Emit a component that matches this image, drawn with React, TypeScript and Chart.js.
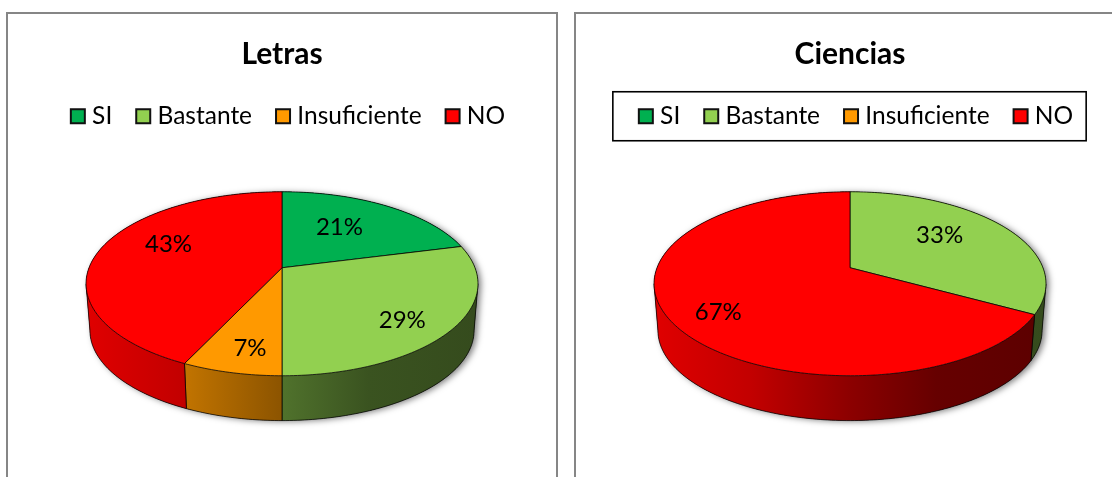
import { useEffect, useRef } from "react";
import { Chart, registerables } from "chart.js";

Chart.register(...registerables);

const categories = ["SI", "Bastante", "Insuficiente", "NO"];
const letrasValues = [21, 29, 7, 43];
const cienciasValues = [0, 33, 0, 67];
const colors = ["#00b050", "#92d050", "#ff9900", "#ff0000"];

// label placement: radial position on the pie, then a small nudge in px
const letrasLabels = [
  { r: 0.55, dx: -3, dy: -4 },
  { r: 0.75, dx: -4, dy: 8 },
  { r: 0.8, dx: 7, dy: 0 },
  { r: 0.6, dx: -3, dy: -12 },
];
const cienciasLabels = [
  { r: 0, dx: 0, dy: 0 },
  { r: 0.58, dx: -2, dy: -7 },
  { r: 0, dx: 0, dy: 0 },
  { r: 0.72, dx: -4, dy: 10 },
];

const FONT = "Lato, Carlito, Calibri, sans-serif";
const RX = 193;
const RY = 89.2;
const P = -0.174;
const DEPTH = 47;
const BOTTOM_SCALE = 0.98;
const SHADE: [number, number][] = [
  [0, 0.88],
  [0.25, 0.76],
  [0.5, 0.55],
  [0.72, 0.4],
  [1, 0.36],
];
// Angles at which the disc's outline turns from the top rim to the side.
const SIDE_RIGHT = Math.acos(P);
const SIDE_LEFT = Math.PI * 2 - SIDE_RIGHT;

function project(cx: number, cy: number, r: number, theta: number, lower = false): [number, number] {
  const u = r * Math.sin(theta);
  const v = -r * Math.cos(theta);
  const den = 1 + P * v;
  let X = (RX * u) / den;
  let Y = (RY * v) / den;
  if (lower) {
    X *= BOTTOM_SCALE;
    Y = Y * BOTTOM_SCALE + DEPTH;
  }
  return [cx + X, cy + Y];
}

function rim(ctx: CanvasRenderingContext2D, cx: number, cy: number, a: number, b: number, lower: boolean, first: boolean) {
  const steps = Math.max(2, Math.ceil(Math.abs(b - a) * 60));
  for (let i = 0; i <= steps; i++) {
    const [x, y] = project(cx, cy, 1, a + ((b - a) * i) / steps, lower);
    if (i === 0 && first) ctx.moveTo(x, y);
    else ctx.lineTo(x, y);
  }
}

// Adds the swept side of the disc between two angles, as same-wound quads, so the
// union covers the hull between the upper and the lower rim.
function wall(ctx: CanvasRenderingContext2D, cx: number, cy: number, a: number, b: number) {
  const steps = Math.max(2, Math.ceil((b - a) * 60));
  for (let i = 0; i < steps; i++) {
    const t0 = a + ((b - a) * i) / steps;
    const t1 = a + ((b - a) * (i + 1)) / steps;
    const q = [project(cx, cy, 1, t0), project(cx, cy, 1, t1), project(cx, cy, 1, t1, true), project(cx, cy, 1, t0, true)];
    let area = 0;
    q.forEach((p, k) => {
      const n = q[(k + 1) % 4];
      area += p[0] * n[1] - n[0] * p[1];
    });
    if (area < 0) q.reverse();
    ctx.moveTo(q[0][0], q[0][1]);
    ctx.lineTo(q[1][0], q[1][1]);
    ctx.lineTo(q[2][0], q[2][1]);
    ctx.lineTo(q[3][0], q[3][1]);
    ctx.closePath();
  }
}

function shade(hex: string, m: number) {
  const n = parseInt(hex.slice(1), 16);
  return `rgb(${Math.round(((n >> 16) & 255) * m)},${Math.round(((n >> 8) & 255) * m)},${Math.round((n & 255) * m)})`;
}

const pie3d = {
  id: "pie3d",
  afterLayout(chart: any) {
    const shift = chart.options.plugins.pie3d.legendShift;
    const legend = chart.legend;
    legend.left += shift;
    legend.right += shift;
    legend.legendHitBoxes.forEach((h: any) => (h.left += shift));
  },
  beforeDatasetsDraw(chart: any) {
    const ctx: CanvasRenderingContext2D = chart.ctx;
    const meta = chart.getDatasetMeta(0);
    const ds = chart.data.datasets[0];
    const cfg = chart.options.plugins.pie3d;
    const cx = meta.data[0].x;
    const cy = meta.data[0].y + cfg.centerShift;
    const arcs = meta.data
      .map((arc: any, i: number) => ({
        i,
        a: arc.startAngle + Math.PI / 2,
        b: arc.endAngle + Math.PI / 2,
      }))
      .filter((s: any) => s.b - s.a > 1e-4);

    // soft shadow under the disc
    ctx.save();
    ctx.shadowColor = "rgba(0,0,0,0.5)";
    ctx.shadowBlur = 6;
    ctx.shadowOffsetX = 3;
    ctx.shadowOffsetY = 1;
    ctx.fillStyle = "#444";
    ctx.beginPath();
    wall(ctx, cx, cy, 0, Math.PI * 2);
    ctx.fill();
    ctx.restore();

    // outer wall
    for (const s of arcs) {
      const g = ctx.createLinearGradient(cx - 196, 0, cx + 196, 0);
      SHADE.forEach(([t, m]) => g.addColorStop(t, shade(colors[s.i], m)));
      ctx.beginPath();
      wall(ctx, cx, cy, s.a, s.b);
      ctx.fillStyle = g;
      ctx.fill();
      // visible lower rim, the seams where slices meet, and the side outline
      const from = Math.max(s.a, SIDE_RIGHT);
      const to = Math.min(s.b, SIDE_LEFT);
      ctx.beginPath();
      if (to > from) rim(ctx, cx, cy, from, to, true, true);
      for (const t of [s.a, s.b, SIDE_RIGHT, SIDE_LEFT]) {
        if (t < s.a || t > s.b) continue;
        if (t < SIDE_RIGHT || t > SIDE_LEFT) continue;
        const top = project(cx, cy, 1, t);
        const low = project(cx, cy, 1, t, true);
        ctx.moveTo(top[0], top[1]);
        ctx.lineTo(low[0], low[1]);
      }
      ctx.strokeStyle = "rgba(0,0,0,0.7)";
      ctx.lineWidth = 1;
      ctx.stroke();
    }

    // top face
    for (const s of arcs) {
      ctx.beginPath();
      ctx.moveTo(cx, cy);
      rim(ctx, cx, cy, s.a, s.b, false, false);
      ctx.closePath();
      ctx.fillStyle = ds.backgroundColor[s.i];
      ctx.fill();
      ctx.strokeStyle = "rgba(0,0,0,0.75)";
      ctx.lineWidth = 1;
      ctx.stroke();
    }

    // percent labels
    ctx.fillStyle = "#000";
    ctx.font = `24px ${FONT}`;
    ctx.textAlign = "center";
    ctx.textBaseline = "middle";
    for (const s of arcs) {
      const p = cfg.labels[s.i];
      const [x, y] = project(cx, cy, p.r, (s.a + s.b) / 2);
      ctx.fillText(`${ds.data[s.i]}%`, x + p.dx, y + p.dy);
    }
    return false;
  },
  afterDraw(chart: any) {
    const ctx: CanvasRenderingContext2D = chart.ctx;
    const boxes = chart.legend.legendHitBoxes;
    const ds = chart.data.datasets[0];
    ctx.save();
    boxes.forEach((h: any, i: number) => {
      const y = h.top + h.height / 2;
      ctx.fillStyle = ds.backgroundColor[i];
      ctx.strokeStyle = "#111";
      ctx.lineWidth = 2;
      ctx.fillRect(h.left + 1, y - 7, 14, 14);
      ctx.strokeRect(h.left + 1, y - 7, 14, 14);
    });
    if (chart.options.plugins.pie3d.legendBorder) {
      const a = boxes[0];
      const z = boxes[boxes.length - 1];
      const y = a.top + a.height / 2;
      ctx.strokeStyle = "#000";
      ctx.lineWidth = 1.6;
      ctx.strokeRect(a.left - 25, y - 24.5, z.left + z.width - a.left + 38, 49);
    }
    ctx.restore();
  },
};

function Panel({ title, values, left, labels, legendBorder }: any) {
  const ref = useRef<HTMLCanvasElement>(null);
  useEffect(() => {
    const chart = new Chart(ref.current!, {
      type: "pie",
      data: {
        labels: categories,
        datasets: [{ data: values, backgroundColor: colors, borderWidth: 0 }],
      },
      options: {
        animation: false,
        responsive: false,
        layout: { padding: { bottom: 80 } },
        plugins: {
          title: {
            display: true,
            text: title,
            color: "#000",
            font: { family: FONT, size: 30, weight: "bold" },
            padding: { top: 22, bottom: 9 },
          },
          legend: {
            position: "top",
            labels: {
              color: "#000",
              font: { family: FONT, size: 24.5 },
              boxWidth: 10,
              boxHeight: 10,
              padding: 23,
              generateLabels(c: any) {
                return (Chart as any).overrides.pie.plugins.legend.labels
                  .generateLabels(c)
                  .map((it: any) => ({ ...it, fillStyle: "transparent", strokeStyle: "transparent", lineWidth: 0, hidden: false }));
              },
            },
          },
          tooltip: { enabled: false },
          pie3d: { labels, legendBorder, legendShift: 5.5, centerShift: 0 },
        } as any,
      },
      plugins: [pie3d as any],
    });
    return () => chart.destroy();
  }, []);
  return (
    <div
      style={{
        position: "absolute",
        left,
        top: 12,
        width: 552,
        height: 600,
        boxSizing: "border-box",
        border: "2px solid #868686",
        background: "#fff",
      }}
    >
      <canvas ref={ref} width={548} height={463} style={{ display: "block" }} />
    </div>
  );
}

export default function App() {
  return (
    <div style={{ position: "fixed", inset: 0, overflow: "hidden", background: "#fff" }}>
      <Panel title="Letras" values={letrasValues} left={6} labels={letrasLabels} legendBorder={false} />
      <Panel title="Ciencias" values={cienciasValues} left={574} labels={cienciasLabels} legendBorder={true} />
    </div>
  );
}
